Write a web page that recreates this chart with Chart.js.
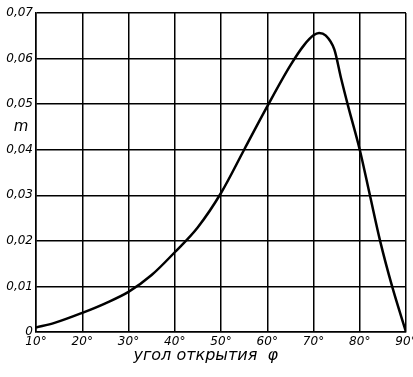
<!DOCTYPE html>
<html>
<head>
<meta charset="utf-8">
<script src="https://cdn.jsdelivr.net/npm/chart.js@4/dist/chart.umd.min.js"></script>
<style>
  body { margin: 0; background: #fff; }
  #wrap { width: 413px; height: 377px; }
</style>
</head>
<body>
<div id="wrap"><canvas id="chart" width="413" height="377"></canvas></div>
<script>
// угол открытия (degrees) and m
const angles = [10, 14, 20, 25, 30, 35, 40, 45, 50, 55, 60, 65, 68, 70, 71.2, 72.6, 74.5, 76, 77.5, 80, 82.2, 84.4, 87, 90];
const mValues = [0.001, 0.002, 0.0042, 0.0063, 0.0088, 0.0125, 0.0175, 0.023, 0.0305, 0.040, 0.0495, 0.0585, 0.063, 0.0651, 0.0656, 0.0651, 0.062, 0.0555, 0.0495, 0.040, 0.030, 0.020, 0.010, 0];
const xTicks = [10, 20, 30, 40, 50, 60, 70, 80, 90];
const yTicks = [0, 0.01, 0.02, 0.03, 0.04, 0.05, 0.06, 0.07];
const xTitle = "угол открытия  φ";
const yTitle = "m";

const font = "'DejaVu Sans', sans-serif";

// "m" sits between 0,05 and 0,04 on the left
const yLabel = {
  id: "yLabel",
  afterDraw(chart) {
    const ctx = chart.ctx;
    const y = chart.scales.y.getPixelForValue(0.045);
    ctx.save();
    ctx.font = "italic 15px " + font;
    ctx.fillStyle = "#000";
    ctx.textAlign = "center";
    ctx.textBaseline = "middle";
    ctx.fillText(yTitle, 21, y);
    ctx.restore();
  }
};

const points = angles.map((a, i) => ({ x: a, y: mValues[i] }));

new Chart(document.getElementById("chart"), {
  type: "line",
  data: {
    datasets: [{
      data: points,
      borderColor: "#000",
      borderWidth: 2.5,
      pointRadius: 0,
      cubicInterpolationMode: "monotone",
      fill: false
    }]
  },
  options: {
    responsive: false,
    animation: false,
    layout: { padding: { top: 13, right: 7, left: 0, bottom: 12 } },
    plugins: {
      legend: { display: false },
      tooltip: { enabled: false }
    },
    scales: {
      x: {
        type: "linear",
        min: 10,
        max: 90,
        afterBuildTicks: (s) => { s.ticks = xTicks.map(v => ({ value: v })); },
        afterFit: (s) => { s.height = 33; s.paddingRight = 0; s.paddingLeft = 0; },
        grid: { color: "#000", lineWidth: 1.5, drawTicks: false },
        border: { color: "#000", width: 1.5 },
        ticks: {
          color: "#000",
          padding: 3,
          font: { family: font, size: 12, style: "italic" },
          callback: (v) => v + "°"
        },
        title: {
          display: true,
          text: xTitle + "      ",
          color: "#000",
          padding: { top: 0, bottom: 0 },
          font: { family: font, size: 16, style: "italic" }
        }
      },
      y: {
        min: 0,
        max: 0.07,
        afterBuildTicks: (s) => { s.ticks = yTicks.map(v => ({ value: v })); },
        afterFit: (s) => { s.width = 36; s.paddingTop = 0; s.paddingBottom = 0; },
        grid: { color: "#000", lineWidth: 1.5, drawTicks: false },
        border: { color: "#000", width: 1.5 },
        ticks: {
          color: "#000",
          padding: 3,
          font: { family: font, size: 12, style: "italic" },
          callback: (v) => v === 0 ? "0" : v.toFixed(2).replace(".", ",")
        }
      }
    }
  },
  plugins: [yLabel]
});
</script>
</body>
</html>
